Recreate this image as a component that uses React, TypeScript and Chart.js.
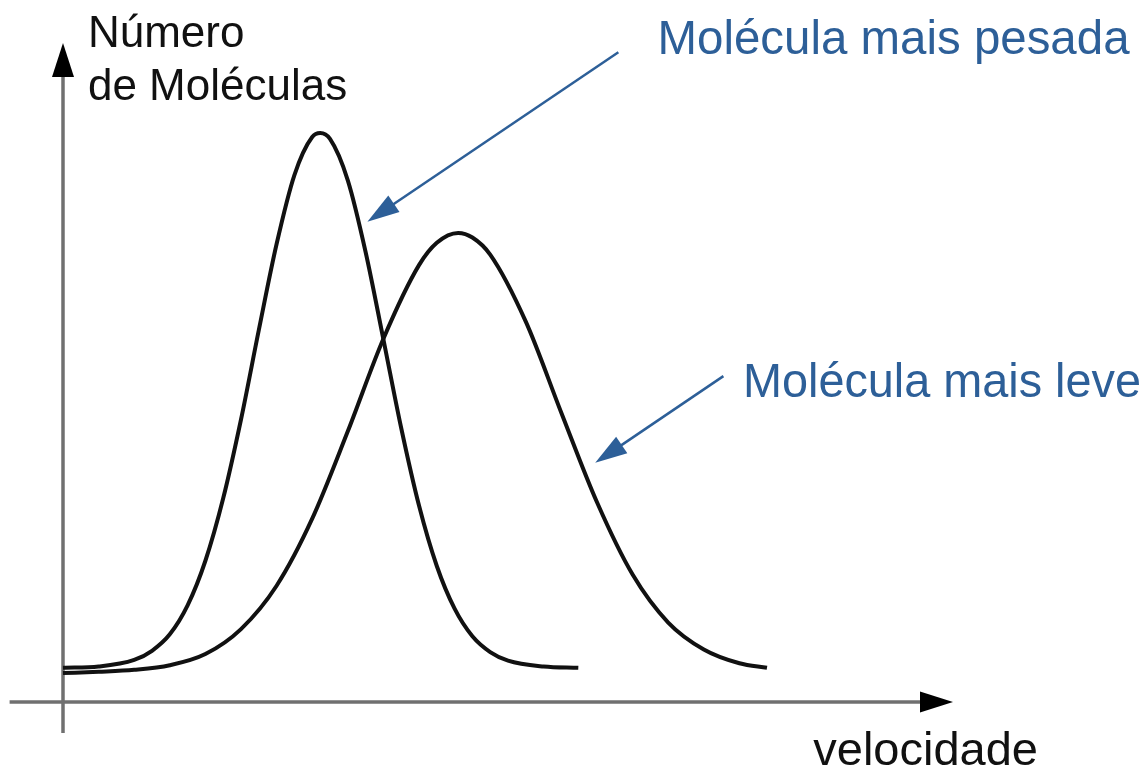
import React, { useEffect, useRef } from "react";
import { Chart, registerables } from "chart.js";

Chart.register(...registerables);

// Molécula mais pesada (narrow, tall curve)
const velocidadePesada = [0, 40, 80, 100, 120, 140, 160, 180, 200, 220, 240, 260, 280, 289, 300, 320, 340, 360, 380, 400, 420, 440, 460, 480, 500, 540, 579];
const numeroPesada = [52, 54, 64, 78, 103, 147, 215, 310, 430, 566, 697, 802, 860, 866, 857, 794, 685, 552, 417, 299, 207, 142, 100, 76, 63, 54, 52];

// Molécula mais leve (wide, lower curve)
const velocidadeLeve = [0, 40, 80, 120, 160, 200, 240, 280, 320, 360, 400, 420, 444, 460, 480, 520, 560, 600, 640, 680, 720, 760, 791];
const numeroLeve = [44, 46, 49, 56, 73, 111, 177, 279, 412, 553, 665, 699, 714, 707, 681, 579, 440, 304, 194, 121, 80, 59, 52];

const yTitle = ["Número", "de Moléculas"];
const xTitle = "velocidade";
const labelPesada = "Molécula mais pesada";
const labelLeve = "Molécula mais leve";

const W = 1147;
const H = 768;

const toPoints = (xs: number[], ys: number[]) => xs.map((v, i) => ({ x: v, y: ys[i] }));

function arrowHead(ctx: CanvasRenderingContext2D, tx: number, ty: number, fx: number, fy: number, len: number, half: number) {
  const ang = Math.atan2(ty - fy, tx - fx);
  const bx = tx - Math.cos(ang) * len;
  const by = ty - Math.sin(ang) * len;
  const nx = -Math.sin(ang);
  const ny = Math.cos(ang);
  ctx.beginPath();
  ctx.moveTo(tx, ty);
  ctx.lineTo(bx + nx * half, by + ny * half);
  ctx.lineTo(bx - nx * half, by - ny * half);
  ctx.closePath();
  ctx.fill();
}

const drawPlugin = {
  id: "drawExtras",
  beforeDatasetsDraw(chart: any) {
    const { ctx, scales } = chart;
    const px = (v: number) => scales.x.getPixelForValue(v);
    const py = (n: number) => scales.y.getPixelForValue(n);
    ctx.save();
    ctx.strokeStyle = "#707070";
    ctx.lineWidth = 3.5;
    ctx.beginPath();
    ctx.moveTo(px(-60), py(0));
    ctx.lineTo(px(1000) - 30, py(0));
    ctx.stroke();
    ctx.beginPath();
    ctx.moveTo(px(0), py(-47));
    ctx.lineTo(px(0), py(1000) + 30);
    ctx.stroke();
    ctx.fillStyle = "#000";
    arrowHead(ctx, px(1000), py(0), px(0), py(0), 33, 10.5);
    arrowHead(ctx, px(0), py(1000) - 2, px(0), py(0), 34, 11);
    ctx.restore();
  },
  afterDatasetsDraw(chart: any) {
    const { ctx, scales } = chart;
    const px = (v: number) => scales.x.getPixelForValue(v);
    const py = (n: number) => scales.y.getPixelForValue(n);
    ctx.save();
    ctx.textBaseline = "alphabetic";
    ctx.textAlign = "left";
    ctx.fillStyle = "#111";
    ctx.font = '44px "Liberation Sans", Arial, sans-serif';
    ctx.fillText(yTitle[0], px(28), py(997));
    ctx.fillText(yTitle[1], px(28), py(916));
    ctx.font = '47px "Liberation Sans", Arial, sans-serif';
    ctx.fillText(xTitle, px(843), py(-96));

    const blue = "#2d5f98";
    ctx.fillStyle = blue;
    ctx.strokeStyle = blue;
    ctx.font = '48px "Liberation Sans", Arial, sans-serif';
    ctx.fillText(labelPesada, px(668), py(986), 472);
    ctx.fillText(labelLeve, px(764), py(464), 398);

    ctx.lineWidth = 2.5;
    const p1 = [px(624), py(989)];
    const p2 = [px(342), py(731)];
    ctx.beginPath();
    ctx.moveTo(p1[0], p1[1]);
    ctx.lineTo(p2[0] + (p1[0] - p2[0]) * 0.08, p2[1] + (p1[1] - p2[1]) * 0.08);
    ctx.stroke();
    arrowHead(ctx, p2[0], p2[1], p1[0], p1[1], 32, 10);
    const q1 = [px(742), py(496)];
    const q2 = [px(598), py(364)];
    ctx.beginPath();
    ctx.moveTo(q1[0], q1[1]);
    ctx.lineTo(q2[0] + (q1[0] - q2[0]) * 0.15, q2[1] + (q1[1] - q2[1]) * 0.15);
    ctx.stroke();
    arrowHead(ctx, q2[0], q2[1], q1[0], q1[1], 32, 10);
    ctx.restore();
  },
};

export default function App() {
  const ref = useRef<HTMLCanvasElement | null>(null);
  useEffect(() => {
    if (!ref.current) return;
    const chart = new Chart(ref.current, {
      type: "line",
      data: {
        datasets: [
          {
            label: labelPesada,
            data: toPoints(velocidadePesada, numeroPesada),
            borderColor: "#111",
            borderWidth: 4,
            pointRadius: 0,
            fill: false,
            cubicInterpolationMode: "monotone",
            clip: false,
          } as any,
          {
            label: labelLeve,
            data: toPoints(velocidadeLeve, numeroLeve),
            borderColor: "#111",
            borderWidth: 4,
            pointRadius: 0,
            fill: false,
            cubicInterpolationMode: "monotone",
            clip: false,
          } as any,
        ],
      },
      options: {
        animation: false,
        responsive: false,
        maintainAspectRatio: false,
        events: [],
        layout: { padding: { left: 63, top: 45, right: W - 953, bottom: H - 702 } },
        plugins: { legend: { display: false }, tooltip: { enabled: false }, title: { display: false } },
        scales: {
          x: { type: "linear", min: 0, max: 1000, display: false },
          y: { type: "linear", min: 0, max: 1000, display: false },
        },
      },
      plugins: [drawPlugin],
    });
    return () => chart.destroy();
  }, []);
  return (
    <div style={{ position: "fixed", left: 0, top: 0, width: W, height: H, background: "#fff" }}>
      <canvas ref={ref} width={W} height={H} style={{ width: W, height: H, display: "block" }} />
    </div>
  );
}
